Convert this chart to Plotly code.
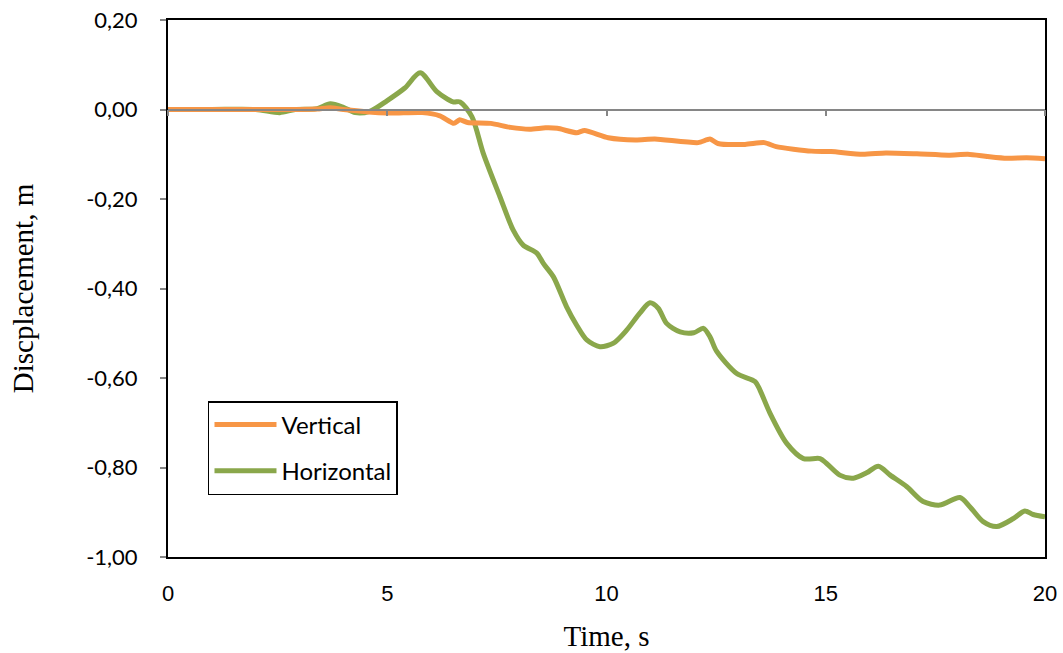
import plotly.graph_objects as go

# Vertical displacement (orange)
t_vert = [0, 1, 2, 3, 3.4, 3.7, 4.0, 5.0, 5.8, 6.2, 6.52, 6.65, 6.83, 7.36, 7.81, 8.25, 8.61,
          8.88, 9.32, 9.5, 10.04, 10.66, 11.1, 12.09, 12.36, 12.54, 13.16, 13.6, 13.87,
          14.67, 15.12, 15.84, 16.37, 17.08, 17.8, 18.24, 18.69, 19.13, 19.58, 20.0]
d_vert = [0, 0, 0, 0, 0.001, 0.004, 0.0, -0.008, -0.007, -0.014, -0.031, -0.023, -0.029,
          -0.031, -0.040, -0.044, -0.041, -0.042, -0.052, -0.047, -0.063, -0.068, -0.066,
          -0.074, -0.066, -0.076, -0.078, -0.074, -0.083, -0.093, -0.094, -0.100, -0.097,
          -0.099, -0.102, -0.100, -0.105, -0.109, -0.108, -0.110]

# Horizontal displacement (green)
t_hor = [0, 1, 2, 2.55, 2.9, 3.4, 3.7, 4.0, 4.27, 4.6, 5.0, 5.4, 5.75, 6.13, 6.5, 6.66, 6.93,
         7.19, 7.57, 7.87, 8.1, 8.41, 8.56, 8.79, 9.09, 9.32, 9.55, 9.85, 10.16, 10.46, 10.76,
         10.99, 11.18, 11.37, 11.68, 11.99, 12.21, 12.36, 12.51, 12.97, 13.39, 13.5, 13.73,
         14.11, 14.49, 14.87, 15.02, 15.32, 15.63, 15.93, 16.2, 16.47, 16.85, 17.22, 17.6,
         18.06, 18.29, 18.59, 18.9, 19.28, 19.54, 19.73, 20.0]
d_hor = [0, 0, 0, -0.007, 0.0, 0.002, 0.013, 0.005, -0.007, -0.004, 0.02, 0.048, 0.082,
         0.040, 0.017, 0.017, -0.016, -0.098, -0.195, -0.269, -0.303, -0.321, -0.344, -0.374,
         -0.441, -0.482, -0.515, -0.530, -0.522, -0.493, -0.455, -0.432, -0.444, -0.478,
         -0.497, -0.499, -0.489, -0.508, -0.540, -0.590, -0.608, -0.627, -0.679, -0.746,
         -0.780, -0.780, -0.791, -0.817, -0.824, -0.812, -0.797, -0.817, -0.843, -0.876,
         -0.884, -0.867, -0.888, -0.921, -0.932, -0.914, -0.897, -0.905, -0.910]

y_ticks = [0.2, 0.0, -0.2, -0.4, -0.6, -0.8, -1.0]
y_labels = ["0,20", "0,00", "-0,20", "-0,40", "-0,60", "-0,80", "-1,00"]
x_ticks = [0, 5, 10, 15, 20]

ORANGE = "#F79646"
GREEN = "#8AA74B"

fig = go.Figure()
fig.add_trace(go.Scatter(x=t_vert, y=d_vert, mode="lines", name="Vertical",
                         legendgroup="a", xaxis="x2",
                         line=dict(color=ORANGE, width=5, shape="spline", smoothing=0.6)))
fig.add_trace(go.Scatter(x=t_hor, y=d_hor, mode="lines", name="Horizontal",
                         legendgroup="b",
                         line=dict(color=GREEN, width=5, shape="spline", smoothing=0.8)))

ymin, ymax = -1.0, 0.2
fig.update_layout(
    width=1063, height=653,
    margin=dict(l=168, r=18, t=20, b=96, autoexpand=False),
    paper_bgcolor="white", plot_bgcolor="white",
    showlegend=True,
    legend=dict(x=0.0456, y=0.2905, xanchor="left", yanchor="top",
                bordercolor="black", borderwidth=1.5, bgcolor="white",
                font=dict(family="Lato, Open Sans, sans-serif", size=24, color="black"),
                traceorder="grouped", tracegroupgap=12, itemwidth=62),
    xaxis=dict(range=[0, 20], tickvals=x_ticks, ticktext=[str(v) for v in x_ticks],
               showgrid=False, zeroline=False, ticks="", automargin=False,
               showline=True, linecolor="black", linewidth=2, mirror=True,
               tickfont=dict(family="Liberation Sans, Arial, sans-serif", size=22, color="black"),
               ticklabelstandoff=16,
               title=dict(text="Time, s", standoff=20,
                          font=dict(family="Liberation Serif, Times New Roman, serif", size=29,
                                    color="black"))),
    xaxis2=dict(range=[0, 20], tickvals=x_ticks, matches="x", overlaying="x",
                anchor="free", position=(0 - ymin) / (ymax - ymin),
                showticklabels=False, ticks="outside", ticklen=6, tickwidth=1.5,
                tickcolor="#868686", showline=True, linecolor="#868686", linewidth=1.5,
                showgrid=False, zeroline=False),
    yaxis=dict(range=[ymin, ymax], tickvals=y_ticks, ticktext=y_labels,
               showgrid=False, zeroline=False, automargin=False,
               ticks="outside", ticklen=6, tickwidth=1.5, tickcolor="#868686",
               showline=True, linecolor="black", linewidth=2, mirror=True,
               tickfont=dict(family="Lato, Open Sans, sans-serif", size=22, color="black"),
               ticklabelstandoff=18,
               title=dict(text="Discplacement, m", standoff=44,
                          font=dict(family="Liberation Serif, Times New Roman, serif", size=29,
                                    color="black"))),
)

fig.write_html("out.html")
